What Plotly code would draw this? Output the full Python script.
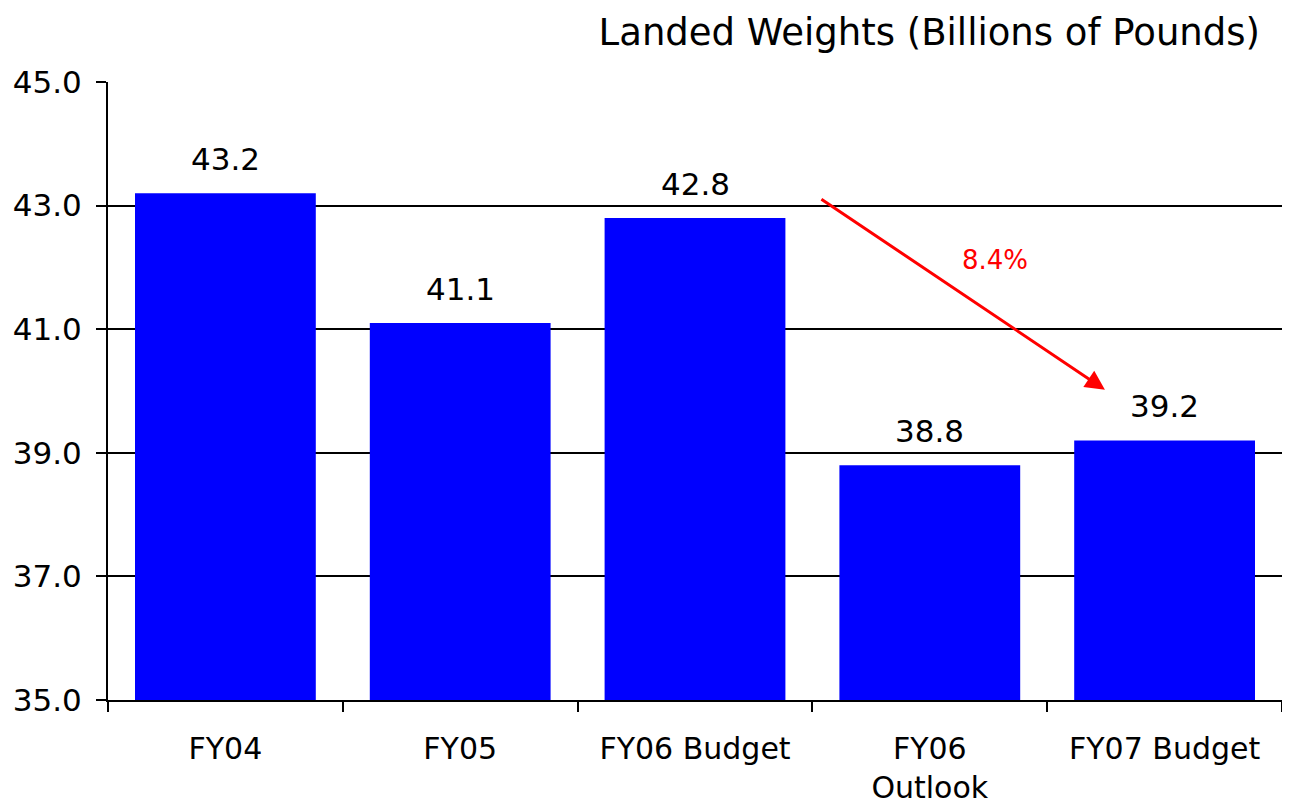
import plotly.graph_objects as go

categories = ["FY04", "FY05", "FY06 Budget", "FY06<br>Outlook", "FY07 Budget"]
weights = [43.2, 41.1, 42.8, 38.8, 39.2]
change_label = "8.4%"

FONT = "DejaVu Sans"

fig = go.Figure()
fig.add_trace(go.Bar(
    x=categories,
    y=weights,
    marker=dict(color="#0000FF", line=dict(width=0)),
    width=0.77,
))

# value labels above the bars
for c, v in zip(categories, weights):
    fig.add_annotation(
        x=c, y=v, text=f"{v:.1f}", showarrow=False,
        yanchor="bottom", yshift=14,
        font=dict(family=FONT, size=31, color="black"),
    )

# red arrow from FY06 Budget towards FY07 Budget
fig.add_annotation(
    x=3.746, y=40.02, ax=2.532, ay=43.12,
    xref="x", yref="y", axref="x", ayref="y",
    text="", showarrow=True, arrowhead=2, arrowsize=1.3,
    arrowwidth=3, arrowcolor="#FF0000",
)
fig.add_annotation(
    x=3.278, y=42.12, text=change_label, showarrow=False,
    font=dict(family=FONT, size=26, color="#FF0000"),
)

# page body adds an 8px margin, so the figure is a little smaller
fig.update_layout(
    width=1282, height=799,
    margin=dict(l=100, r=8, t=74, b=107),
    plot_bgcolor="white", paper_bgcolor="white",
    showlegend=False,
    bargap=0.23,
    title=dict(
        text="Landed Weights (Billions of Pounds)",
        x=0.9766, xanchor="right", y=0.97, yanchor="middle",
        font=dict(family=FONT, size=37, color="black"),
    ),
    font=dict(family=FONT, color="black"),
)
fig.update_yaxes(
    range=[35, 45], dtick=2, tick0=35, tickformat=".1f",
    showgrid=True, gridcolor="black", gridwidth=2,
    showline=True, linecolor="black", linewidth=2,
    ticks="outside", ticklen=10, tickwidth=2, tickcolor="black",
    tickfont=dict(family=FONT, size=31, color="black"),
    ticklabelstandoff=8,
    zeroline=False, automargin=False,
)
fig.update_xaxes(
    showline=True, linecolor="black", linewidth=2,
    ticks="outside", ticklen=10, tickwidth=2, tickcolor="black",
    tickson="boundaries",
    tickfont=dict(family=FONT, size=30, color="black"),
    ticklabelstandoff=21,
    automargin=False,
)

fig.write_html("out.html")
